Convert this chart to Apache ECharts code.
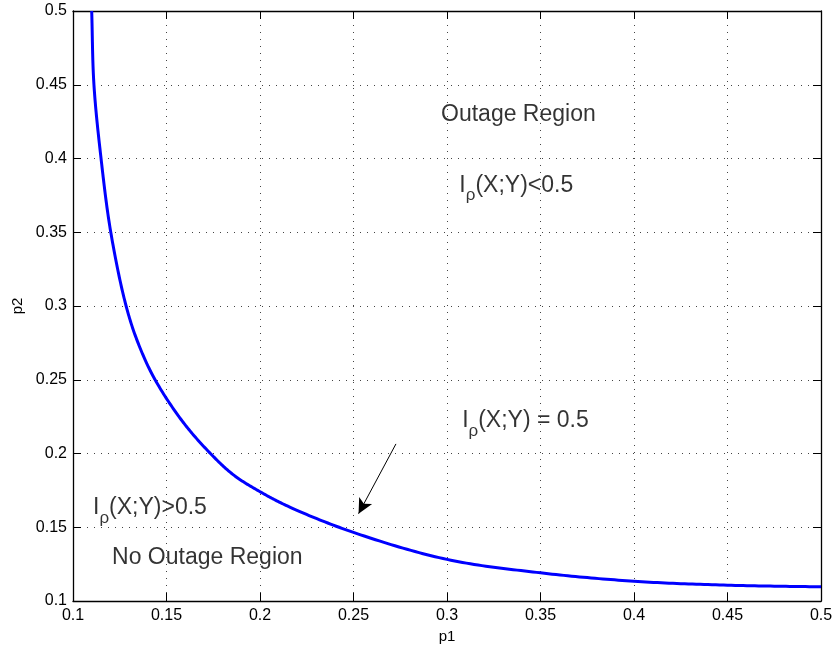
<!DOCTYPE html>
<html>
<head>
<meta charset="utf-8">
<script src="https://cdn.jsdelivr.net/npm/echarts@6/dist/echarts.min.js"></script>
<style>html,body{margin:0;padding:0;background:#fff}#c{width:835px;height:647px}</style>
</head>
<body>
<div id="c"></div>
<script>
// Curve values
const p1Values = [0.1100, 0.1112, 0.1150, 0.1202, 0.1284, 0.1350, 0.1439, 0.1590, 0.1735, 0.1858, 0.2000, 0.2162, 0.2500, 0.3000, 0.3500, 0.4000, 0.4500, 0.5000];
const p2Values = [0.5000, 0.4500, 0.4000, 0.3500, 0.3000, 0.2743, 0.2500, 0.2210, 0.2000, 0.1855, 0.1741, 0.1635, 0.1465, 0.1282, 0.1191, 0.1134, 0.1107, 0.1096];

// Axis ticks
const xTicks = [0.1, 0.15, 0.2, 0.25, 0.3, 0.35, 0.4, 0.45, 0.5];
const yTicks = [0.1, 0.15, 0.2, 0.25, 0.3, 0.35, 0.4, 0.45, 0.5];
const tickStep = 0.05;

// Annotation texts and their anchor points (left edge, vertical middle) in data units
const annotationTexts = ['Outage Region', 'I|ρ|(X;Y)<0.5', 'I|ρ|(X;Y) = 0.5', 'I|ρ|(X;Y)>0.5', 'No Outage Region'];
const annotationX = [0.2968, 0.3066, 0.3081, 0.1107, 0.1209];
const annotationY = [0.4300, 0.3818, 0.2221, 0.1630, 0.1291];

// Arrow from label to curve
const arrowStart = [0.2727, 0.2065];
const arrowEnd = [0.2527, 0.1592];

const FONT = "'Liberation Sans', Arial, sans-serif";
const chart = echarts.init(document.getElementById('c'), null, {renderer: 'canvas'});

const curveData = p1Values.map((x, i) => [x, p2Values[i]]);
const annData = annotationTexts.map((t, i) => [annotationX[i], annotationY[i], t]);

function fmtAnn(t) {
  const parts = t.split('|');
  if (parts.length === 1) return '{t|' + parts[0] + '}';
  return '{t|' + parts[0] + '}{s|' + parts[1] + '}{t|' + parts[2] + '}';
}

// Centripetal Catmull-Rom through pixel points (rendering of the smooth curve)
function catmullRom(pts, steps) {
  const out = [];
  const n = pts.length;
  const P = i => {
    if (i < 0) return [2 * pts[0][0] - pts[1][0], 2 * pts[0][1] - pts[1][1]];
    if (i >= n) return [2 * pts[n - 1][0] - pts[n - 2][0], 2 * pts[n - 1][1] - pts[n - 2][1]];
    return pts[i];
  };
  const td = (a, b) => Math.pow(Math.hypot(b[0] - a[0], b[1] - a[1]), 0.5) || 1e-6;
  for (let i = 0; i < n - 1; i++) {
    const p0 = P(i - 1), p1 = P(i), p2 = P(i + 1), p3 = P(i + 2);
    const t0 = 0, t1 = t0 + td(p0, p1), t2 = t1 + td(p1, p2), t3 = t2 + td(p2, p3);
    for (let s = 0; s < steps; s++) {
      const t = t1 + (t2 - t1) * s / steps;
      const L = (a, b, ta, tb) => [
        (tb - t) / (tb - ta) * a[0] + (t - ta) / (tb - ta) * b[0],
        (tb - t) / (tb - ta) * a[1] + (t - ta) / (tb - ta) * b[1]
      ];
      const A1 = L(p0, p1, t0, t1), A2 = L(p1, p2, t1, t2), A3 = L(p2, p3, t2, t3);
      const B1 = L(A1, A2, t0, t2), B2 = L(A2, A3, t1, t3);
      out.push(L(B1, B2, t1, t2));
    }
  }
  out.push(pts[n - 1]);
  return out;
}

const baseAxis = {
  type: 'value',
  min: xTicks[0],
  max: xTicks[xTicks.length - 1],
  interval: tickStep,
  axisLine: {show: true, onZero: false, lineStyle: {color: '#000', width: 1.3}},
  axisTick: {show: true, inside: true, length: 8, lineStyle: {color: '#000', width: 1}},
};

chart.setOption({
  animation: false,
  backgroundColor: '#fff',
  grid: {left: 73, right: 14, top: 11, bottom: 46, containLabel: false, outerBoundsMode: 'none'},
  xAxis: [
    Object.assign({}, baseAxis, {
      position: 'bottom',
      name: 'p1', nameLocation: 'middle', nameGap: 23,
      nameTextStyle: {fontFamily: FONT, fontSize: 15, color: '#000'},
      axisLabel: {show: true, margin: 7, fontFamily: FONT, fontSize: 16, color: '#000', showMinLabel: true, showMaxLabel: true},
      splitLine: {show: true, lineStyle: {color: '#444', width: 1, type: [1, 6]}}
    }),
    Object.assign({}, baseAxis, {
      position: 'top',
      axisLabel: {show: false},
      splitLine: {show: false}
    })
  ],
  yAxis: [
    Object.assign({}, baseAxis, {
      min: yTicks[0], max: yTicks[yTicks.length - 1],
      position: 'left',
      name: 'p2', nameLocation: 'middle', nameGap: 48, nameRotate: 90,
      nameTextStyle: {fontFamily: FONT, fontSize: 15, color: '#000'},
      axisLabel: {show: true, margin: 6, fontFamily: FONT, fontSize: 16, color: '#000', showMinLabel: true, showMaxLabel: true},
      splitLine: {show: true, lineStyle: {color: '#444', width: 1, type: [1, 6]}}
    }),
    Object.assign({}, baseAxis, {
      min: yTicks[0], max: yTicks[yTicks.length - 1],
      position: 'right',
      axisLabel: {show: false},
      splitLine: {show: false}
    })
  ],
  series: [
    {
      type: 'custom',
      name: 'boundary',
      data: curveData,
      xAxisIndex: 0, yAxisIndex: 0,
      silent: true,
      z: 3,
      clip: true,
      encode: {x: 0, y: 1},
      renderItem: function (params, api) {
        if (params.dataIndex !== 0) return null;
        const pts = curveData.map(d => api.coord(d));
        const dense = catmullRom(pts, 24);
        return {
          type: 'polyline',
          shape: {points: dense},
          style: {fill: null, stroke: '#0000ff', lineWidth: 3, lineJoin: 'round', lineCap: 'butt'}
        };
      }
    },
    {
      type: 'line',
      data: [],
      xAxisIndex: 0, yAxisIndex: 0,
      showSymbol: false,
      silent: true,
      z: 4,
      markLine: {
        silent: true,
        animation: false,
        label: {show: false},
        lineStyle: {color: '#000', width: 1, type: 'solid'},
        symbolSize: [11, 15],
        data: [[
          {coord: arrowStart, symbol: 'none'},
          {coord: arrowEnd, symbol: 'arrow'}
        ]]
      }
    },
    {
      type: 'scatter',
      data: annData,
      xAxisIndex: 0, yAxisIndex: 0,
      symbolSize: 0,
      silent: true,
      z: 5,
      label: {
        show: true,
        position: 'right',
        distance: 0,
        color: '#000',
        formatter: p => fmtAnn(p.data[2]),
        rich: {
          t: {fontFamily: FONT, fontSize: 23, color: '#000'},
          s: {fontFamily: FONT, fontSize: 17, color: '#000', padding: [20, 0, 0, 0]}
        }
      }
    }
  ]
});
</script>
</body>
</html>
